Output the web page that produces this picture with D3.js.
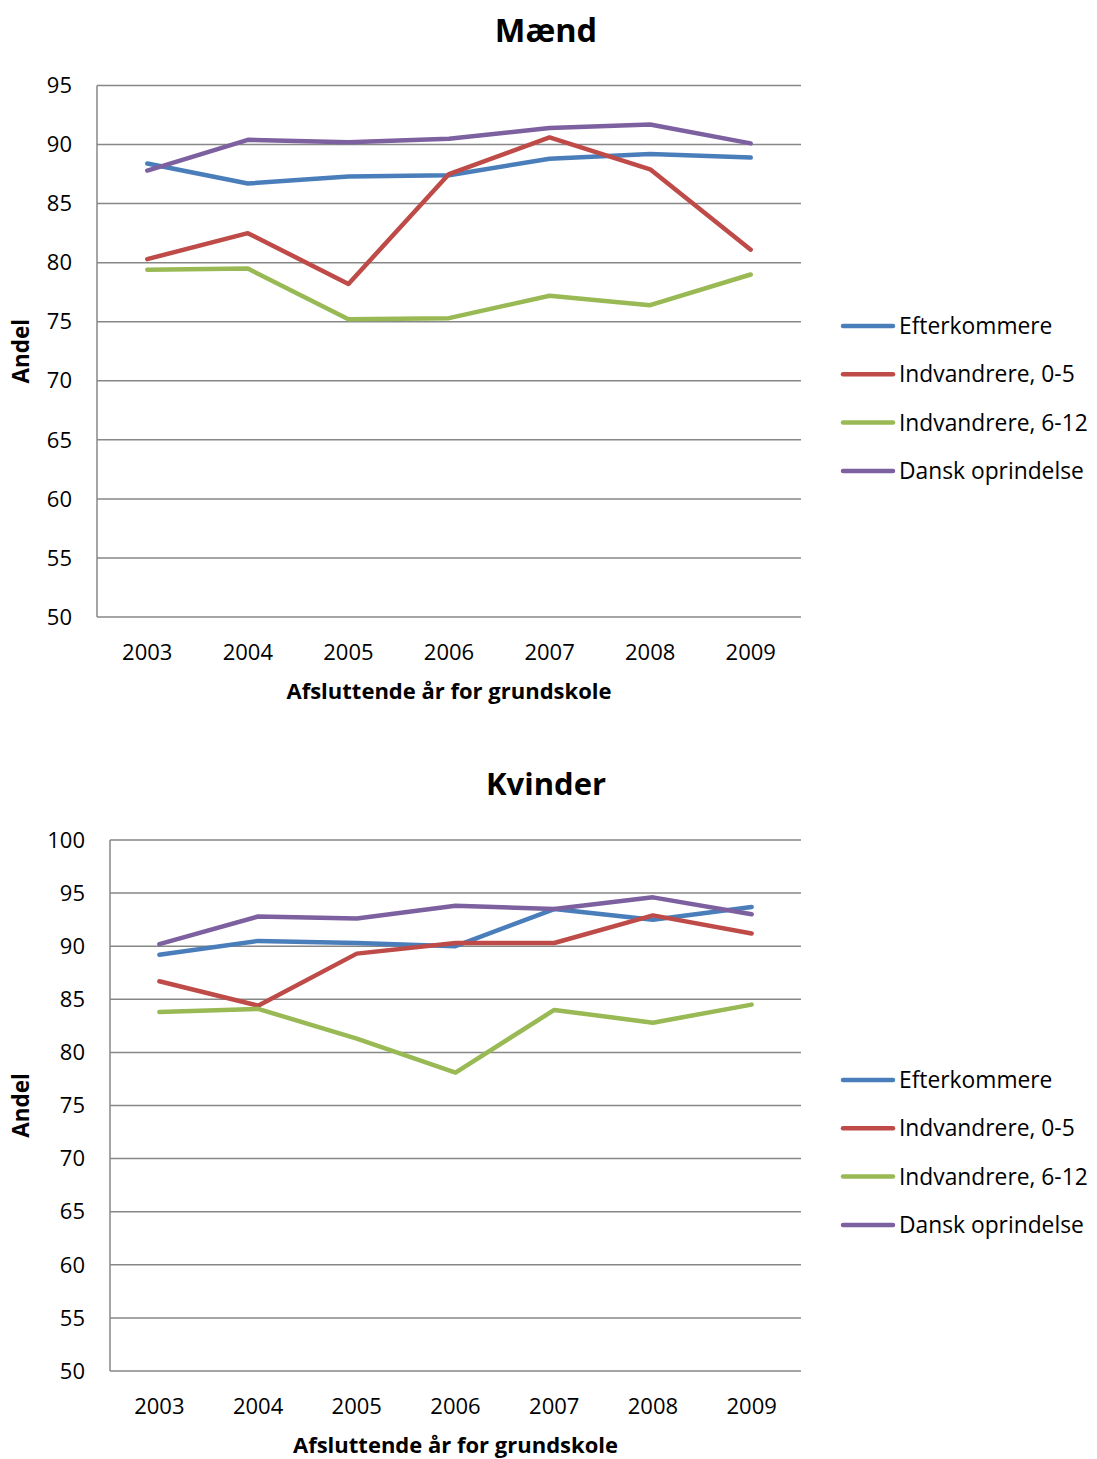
<!DOCTYPE html>
<html><head><meta charset="utf-8">
<script src="https://cdn.jsdelivr.net/npm/d3@7"></script>
<style>body{margin:0;background:#fff;} text{font-family:"Open Sans","Liberation Sans",sans-serif;}</style>
</head><body>
<svg id="c" width="1097" height="1459"></svg>
<script>
const years = ["2003","2004","2005","2006","2007","2008","2009"];
const seriesNames = ["Efterkommere","Indvandrere, 0-5","Indvandrere, 6-12","Dansk oprindelse"];
const colors = ["#4A7EBB","#BE4B48","#98B954","#7D60A0"];

const maendEfterkommere = [88.4, 86.7, 87.3, 87.4, 88.8, 89.2, 88.9];
const maendIndv05      = [80.3, 82.5, 78.2, 87.5, 90.6, 87.9, 81.1];
const maendIndv612     = [79.4, 79.5, 75.2, 75.3, 77.2, 76.4, 79.0];
const maendDansk       = [87.8, 90.4, 90.2, 90.5, 91.4, 91.7, 90.1];

const kvinderEfterkommere = [89.2, 90.5, 90.3, 90.0, 93.5, 92.5, 93.7];
const kvinderIndv05      = [86.7, 84.4, 89.3, 90.3, 90.3, 92.9, 91.2];
const kvinderIndv612     = [83.8, 84.1, 81.3, 78.1, 84.0, 82.8, 84.5];
const kvinderDansk       = [90.2, 92.8, 92.6, 93.8, 93.5, 94.6, 93.0];

const maendTicks = [50,55,60,65,70,75,80,85,90,95];
const kvinderTicks = [50,55,60,65,70,75,80,85,90,95,100];

const svg = d3.select("#c");

function drawChart(cfg){
  const g = svg.append("g");
  const x = d3.scaleBand().domain(years).range([cfg.left, cfg.right]);
  const y = d3.scaleLinear().domain([cfg.ticks[0], cfg.ticks[cfg.ticks.length-1]]).range([cfg.bottom, cfg.top]);
  g.append("text").attr("x", cfg.titleX).attr("y", cfg.titleY).attr("text-anchor","middle")
    .attr("font-size",cfg.titleSize).attr("font-weight","bold").attr("fill","#000").text(cfg.title);
  g.selectAll(".grid").data(cfg.ticks).enter().append("line")
    .attr("x1", cfg.left).attr("x2", cfg.right)
    .attr("y1", d=>y(d)).attr("y2", d=>y(d))
    .attr("stroke","#878787").attr("stroke-width",1.5);
  g.append("line").attr("x1",cfg.left).attr("x2",cfg.left).attr("y1",cfg.top).attr("y2",cfg.bottom)
    .attr("stroke","#878787").attr("stroke-width",1.5);
  g.selectAll(".yl").data(cfg.ticks).enter().append("text")
    .attr("x", cfg.left-25).attr("y", d=>y(d)).attr("dy","0.35em").attr("text-anchor","end")
    .attr("font-size",22).attr("fill","#000").text(d=>d);
  g.selectAll(".xl").data(years).enter().append("text")
    .attr("x", d=>x(d)+x.bandwidth()/2).attr("y", cfg.bottom+43).attr("text-anchor","middle")
    .attr("font-size",22).attr("fill","#000").text(d=>d);
  g.append("text").attr("x",(cfg.left+cfg.right)/2).attr("y",cfg.bottom+82).attr("text-anchor","middle")
    .attr("font-size",22).attr("font-weight","bold").attr("fill","#000").text("Afsluttende år for grundskole");
  g.append("text").attr("transform",`translate(29,${(cfg.top+cfg.bottom)/2}) rotate(-90)`)
    .attr("text-anchor","middle").attr("font-size",22.5).attr("font-weight","bold").attr("fill","#000").text("Andel");
  const line = d3.line().x((d,i)=>x(years[i])+x.bandwidth()/2).y(d=>y(d));
  cfg.series.forEach((s,i)=>{
    g.append("path").datum(s).attr("d",line).attr("fill","none")
      .attr("stroke",colors[i]).attr("stroke-width",4.5).attr("stroke-linecap","round").attr("stroke-linejoin","round");
  });
  seriesNames.forEach((n,i)=>{
    const ly = cfg.legendY + i*48.3;
    g.append("line").attr("x1",843).attr("x2",893).attr("y1",ly).attr("y2",ly)
      .attr("stroke",colors[i]).attr("stroke-width",4.5).attr("stroke-linecap","round");
    g.append("text").attr("x",899).attr("y",ly).attr("dy","0.35em").attr("font-size",22.8).attr("fill","#000").text(n);
  });
}

drawChart({title:"Mænd", titleX:546, titleY:42, titleSize:32.5, left:97, right:801, top:85.5, bottom:617,
  ticks:maendTicks, series:[maendEfterkommere,maendIndv05,maendIndv612,maendDansk], legendY:326});
drawChart({title:"Kvinder", titleX:546, titleY:795, titleSize:31, left:110, right:801, top:840, bottom:1371,
  ticks:kvinderTicks, series:[kvinderEfterkommere,kvinderIndv05,kvinderIndv612,kvinderDansk], legendY:1080});
</script>
</body></html>
